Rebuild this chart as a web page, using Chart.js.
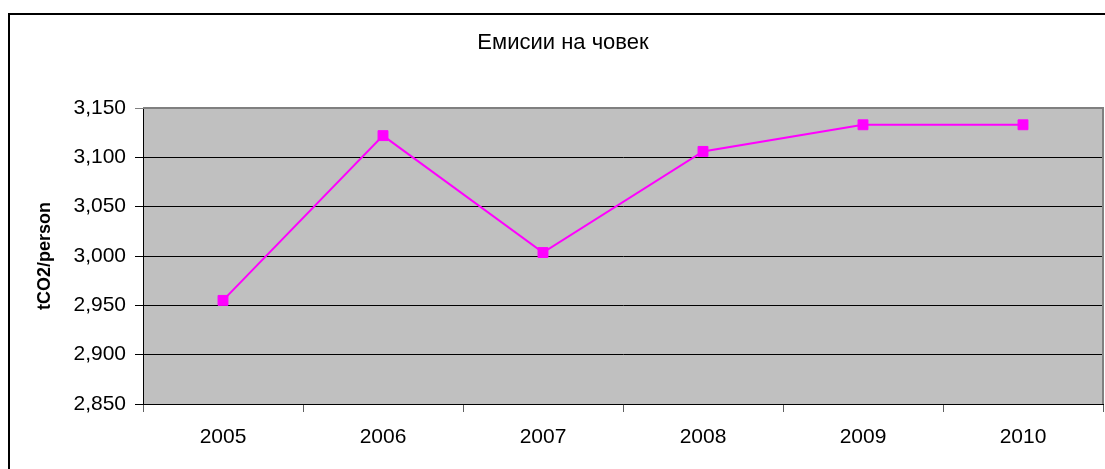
<!DOCTYPE html>
<html>
<head>
<meta charset="utf-8">
<script src="https://cdn.jsdelivr.net/npm/chart.js@4/dist/chart.umd.min.js"></script>
<style>
    body { margin: 0; background: #fff; }
    #wrap { width: 1105px; height: 469px; }
</style>
</head>
<body>
<div id="wrap"><canvas id="emissionsChart" width="1105" height="469"></canvas></div>
<script>
const years = ['2005', '2006', '2007', '2008', '2009', '2010'];
const emissionsPerPerson = [2955, 3122, 3003.5, 3106, 3133, 3133];
const yMin = 2850;
const yMax = 3150;
const yStep = 50;

const chartTitle = 'Емисии на човек';
const yAxisTitle = 'tCO2/person';

Chart.defaults.font.family = '"Liberation Sans", Arial, sans-serif';
Chart.defaults.color = '#000';

// white page, black frame and grey plot background
const frameAndPlot = {
    id: 'frameAndPlot',
    beforeDraw(chart) {
        const ctx = chart.ctx;
        const area = chart.chartArea;
        ctx.save();
        ctx.fillStyle = '#fff';
        ctx.fillRect(0, 0, chart.width, chart.height);
        ctx.strokeStyle = '#000';
        ctx.lineWidth = 2;
        ctx.strokeRect(9, 14, 1110, 500);
        ctx.fillStyle = '#c0c0c0';
        ctx.fillRect(area.left, area.top, area.right - area.left, area.bottom - area.top);
        ctx.restore();
    },
    beforeDatasetsDraw(chart) {
        const ctx = chart.ctx;
        const area = chart.chartArea;
        ctx.save();
        ctx.strokeStyle = '#808080';
        ctx.lineWidth = 2;
        ctx.beginPath();
        ctx.moveTo(area.left, area.top);
        ctx.lineTo(area.right, area.top);
        ctx.lineTo(area.right, area.bottom);
        ctx.stroke();
        ctx.restore();
    }
};

const ctx = document.getElementById('emissionsChart').getContext('2d');
new Chart(ctx, {
    type: 'line',
    data: {
        labels: years,
        datasets: [{
            label: yAxisTitle,
            data: emissionsPerPerson,
            borderColor: '#ff00ff',
            backgroundColor: '#ff00ff',
            borderWidth: 2,
            tension: 0,
            pointStyle: 'rect',
            pointRadius: 7,
            pointBorderWidth: 1,
            pointHoverRadius: 7
        }]
    },
    options: {
        responsive: false,
        animation: false,
        layout: {
            autoPadding: false,
            padding: { left: 23, right: 2, top: 0, bottom: 0 }
        },
        plugins: {
            legend: { display: false },
            tooltip: { enabled: false },
            title: {
                display: true,
                text: chartTitle,
                color: '#000',
                font: { size: 22, weight: 'normal', lineHeight: 1.2 },
                padding: { top: 30, bottom: 51.6 }
            }
        },
        scales: {
            x: {
                offset: true,
                grid: {
                    offset: true,
                    drawOnChartArea: false,
                    tickLength: 8,
                    color: '#606060'
                },
                border: { color: '#000', width: 1 },
                ticks: {
                    padding: 13,
                    font: { size: 21 },
                    maxRotation: 0
                },
                afterFit(scale) {
                    scale.height = 65;
                }
            },
            y: {
                min: yMin,
                max: yMax,
                grid: {
                    color: c => (c.tick && c.tick.value === yMax) ? '#808080' : '#000',
                    tickLength: 8,
                    lineWidth: 1
                },
                border: { color: '#000', width: 1 },
                ticks: {
                    stepSize: yStep,
                    padding: 9,
                    font: { size: 21 },
                    callback: v => v.toLocaleString('en-US')
                },
                title: {
                    display: true,
                    text: yAxisTitle,
                    font: { size: 18, weight: 'bold', lineHeight: 1.2 },
                    padding: { top: 11, bottom: 0 }
                },
                afterFit(scale) {
                    scale.width = 120;
                }
            }
        }
    },
    plugins: [frameAndPlot]
});
</script>
</body>
</html>
